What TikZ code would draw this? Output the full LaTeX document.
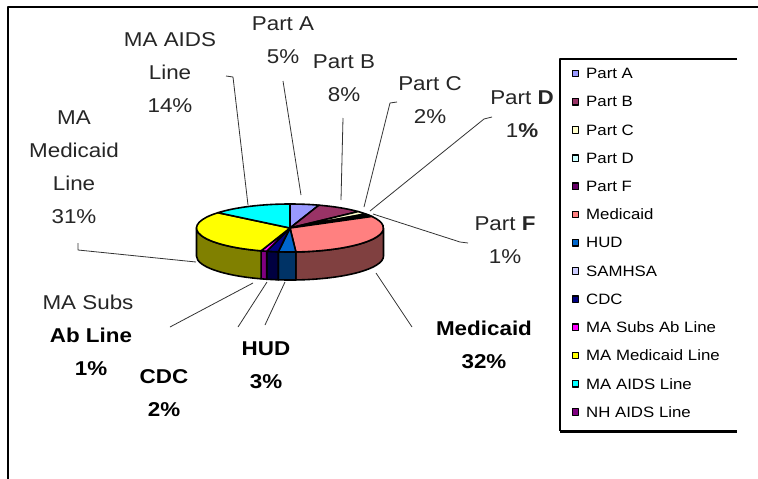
\documentclass[tikz,border=0pt]{standalone}
\usepackage{fontspec}
\setmainfont{Liberation Sans}[FakeStretch=1.12]
\definecolor{partA}{HTML}{9999FF}
\definecolor{partB}{HTML}{993366}
\definecolor{partC}{HTML}{FFFFCC}
\definecolor{partD}{HTML}{CCFFFF}
\definecolor{partF}{HTML}{660066}
\definecolor{medic}{HTML}{FF8080}
\definecolor{hud}{HTML}{0066CC}
\definecolor{samhsa}{HTML}{CCCCFF}
\definecolor{cdc}{HTML}{000080}
\definecolor{subs}{HTML}{FF00FF}
\definecolor{mamed}{HTML}{FFFF00}
\definecolor{maaids}{HTML}{00FFFF}
\definecolor{nhaids}{HTML}{800080}
\definecolor{medicS}{HTML}{804040}
\definecolor{hudS}{HTML}{003366}
\definecolor{cdcS}{HTML}{000040}
\definecolor{subsS}{HTML}{800080}
\definecolor{mamedS}{HTML}{808000}
\newcommand\pieside[3]{\filldraw[pieline, fill=#3] ({\rx*cos(#1)},{\ry*sin(#1)}) arc[start angle=#1, end angle=#2, x radius=\rx, y radius=\ry] -- ++(0,-\hh) arc[start angle=#2, end angle=#1, x radius=\rx, y radius=\ry] -- cycle;}
\newcommand\pietop[3]{\filldraw[pieline, fill=#3] (0,0) -- ({\rx*cos(#1)},{\ry*sin(#1)}) arc[start angle=#1, end angle=#2, x radius=\rx, y radius=\ry] -- cycle;}
\begin{document}
\begin{tikzpicture}[x=1pt,y=-1pt, line join=round,
  lbl/.style={align=center, font=\fontsize{20}{33}\selectfont, text=black!85, inner sep=0pt},
  blbl/.style={align=center, font=\fontsize{20}{33}\selectfont\bfseries, text=black, inner sep=0pt},
  leader/.style={draw=black!80, line width=0.8pt},
  pieline/.style={draw=black, line width=1.6pt},
  legtxt/.style={anchor=west, font=\fontsize{15}{18}\selectfont, inner sep=0pt},
  sw/.style={draw=black, line width=1.3pt, minimum size=6.5pt, inner sep=0pt}]
\useasboundingbox (0,0) rectangle (758,479);
\fill[white] (0,0) rectangle (758,479);
\draw[line width=2pt] (758,7) -- (8,7) -- (8,479);

% pie
\begin{scope}[shift={(290,228)}, yscale=-1]
\def\rx{93.5}\def\ry{24}\def\hh{28}
\pieside{0}{-86.4}{medicS}
\pieside{-86.4}{-97.2}{hudS}
\pieside{-97.2}{-104.4}{cdcS}
\pieside{-104.4}{-108}{subsS}
\pieside{-108}{-180}{mamedS}
\pietop{90}{72}{partA}
\pietop{72}{43.2}{partB}
\pietop{43.2}{36}{partC}
\pietop{36}{32.4}{partD}
\pietop{32.4}{28.8}{partF}
\pietop{28.8}{-86.4}{medic}
\pietop{-86.4}{-97.2}{hud}
\pietop{-97.2}{-104.4}{cdc}
\pietop{-104.4}{-108}{subs}
\pietop{-108}{-219.6}{mamed}
\pietop{-219.6}{-270}{maaids}
\end{scope}

% labels
\node[lbl] (lAids) at (170,73) {MA AIDS\\Line\\14\%};
\node[lbl] (lMam) at (74,167) {MA\\Medicaid\\Line\\31\%};
\node[lbl] (lA) at (283,40) {Part A\\5\%};
\node[lbl] (lB) at (344,78) {Part B\\8\%};
\node[lbl] (lC) at (430,100) {Part C\\2\%};
\node[lbl] (lD) at (522,114) {Part \textbf{D}\\1\textbf{\%}};
\node[lbl] (lF) at (505,240) {Part \textbf{F}\\1\%};
\node[blbl] (lMed) at (484,345) {Medicaid\\32\%};
\node[blbl] (lHud) at (266,365) {HUD\\3\%};
\node[blbl] (lCdc) at (164,393) {CDC\\2\%};
\node[lbl] (lSubs) at (88,302) {MA Subs};
\node[blbl] (lSubs2) at (91,352) {Ab Line\\1\%};

% leaders
\coordinate (aA) at (226,76); \coordinate (aB) at (233,77); \coordinate (aC) at (248,205);
\draw[leader] (aA) -- (aB) -- (aC);
\coordinate (mA) at (78,243); \coordinate (mB) at (78,250); \coordinate (mC) at (196,262);
\draw[leader] (mA) -- (mB) -- (mC);
\coordinate (pa1) at (283,81); \coordinate (pa2) at (301,195);
\draw[leader] (pa1) -- (pa2);
\coordinate (pb1) at (343,118); \coordinate (pb2) at (341,200);
\draw[leader] (pb1) -- (pb2);
\coordinate (pc1) at (397,102); \coordinate (pc2) at (390,103); \coordinate (pc3) at (364,207);
\draw[leader] (pc1) -- (pc2) -- (pc3);
\coordinate (pd1) at (492,117); \coordinate (pd2) at (484,119); \coordinate (pd3) at (370,211);
\draw[leader] (pd1) -- (pd2) -- (pd3);
\coordinate (pf1) at (468,243); \coordinate (pf2) at (460,242); \coordinate (pf3) at (373,214);
\draw[leader] (pf1) -- (pf2) -- (pf3);
\coordinate (md1) at (412,327); \coordinate (md2) at (376,273);
\draw[leader] (md1) -- (md2);
\coordinate (hu1) at (265,325); \coordinate (hu2) at (285,282);
\draw[leader] (hu1) -- (hu2);
\coordinate (cd1) at (238,327); \coordinate (cd2) at (267,282);
\draw[leader] (cd1) -- (cd2);
\coordinate (su1) at (170,327); \coordinate (su2) at (253,283);
\draw[leader] (su1) -- (su2);

% legend
\draw[line width=1.2pt] (737,59) -- (560,59) -- (560,431);
\draw[line width=3pt] (560,431) -- (737,431);
\foreach \t/\c [count=\i from 0] in {Part A/partA, Part B/partB, Part C/partC, Part D/partD, Part F/partF, Medicaid/medic, HUD/hud, SAMHSA/samhsa, CDC/cdc, MA Subs Ab Line/subs, MA Medicaid Line/mamed, MA AIDS Line/maaids, NH AIDS Line/nhaids}{
  \node[sw, fill=\c] (sw\i) at (575.5, 73.5+28.2*\i) {};
  \node[legtxt] (lg\i) at (586, 73.5+28.2*\i) {\t};
}
\end{tikzpicture}
\end{document}
